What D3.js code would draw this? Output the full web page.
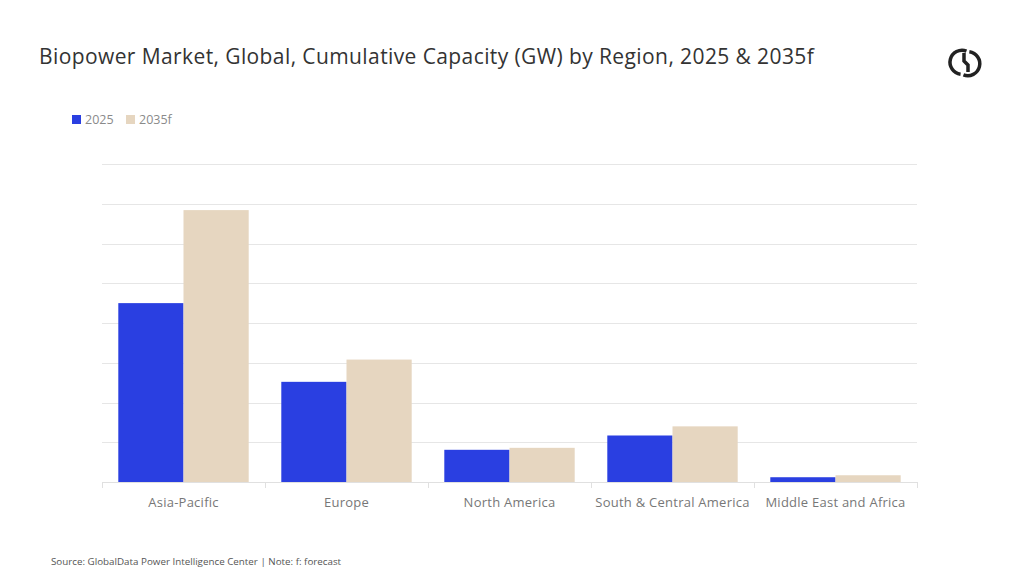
<!DOCTYPE html>
<html>
<head>
<meta charset="utf-8">
<script src="https://cdn.jsdelivr.net/npm/d3@7"></script>
<style>
  body { margin: 0; background: #fff; }
  text { font-family: "Open Sans", "Noto Sans", sans-serif; }
</style>
</head>
<body>
<div id="chart"></div>
<script>
// data (GW, no axis labels shown)
var regions = ["Asia-Pacific", "Europe", "North America", "South & Central America", "Middle East and Africa"];
var years = ["2025", "2035f"];
var values2025 = [45.0, 25.2, 8.1, 11.7, 1.2];
var values2035 = [68.4, 30.8, 8.6, 14.0, 1.7];
var gridTicks = [0, 10, 20, 30, 40, 50, 60, 70, 80];

var colors = { "2025": "#2a3fe1", "2035f": "#e6d6c0" };

var W = 1024, H = 576;
var svg = d3.select("#chart").append("svg")
    .attr("width", W)
    .attr("height", H);

// title
svg.append("text")
    .attr("x", 39)
    .attr("y", 64)
    .attr("font-size", 21)
    .attr("letter-spacing", 0.4)
    .attr("fill", "#333")
    .text("Biopower Market, Global, Cumulative Capacity (GW) by Region, 2025 & 2035f");

// logo (rough)
var logo = svg.append("g").attr("transform", "translate(965,63)")
    .attr("fill", "none").attr("stroke", "#222").attr("stroke-width", 3.5);
logo.append("path").attr("d", "M" + (12 * Math.cos(-1.2)) + "," + (12 * Math.sin(-1.2)) +
    " A12,12 0 1,1 " + (12 * Math.cos(1.7)) + "," + (12 * Math.sin(1.7)));
logo.append("path").attr("d", "M" + (12 * Math.cos(-1.45)) + "," + (12 * Math.sin(-1.45)) +
    " A12,12 0 1,0 " + (12 * Math.cos(1.95)) + "," + (12 * Math.sin(1.95)));
logo.append("path").attr("d", "M-1,-10 L-1,-2 L3,2 L3,9");

// legend
var legend = svg.append("g").attr("transform", "translate(72,114)");
var legX = [0, 54];
years.forEach(function (y, i) {
    legend.append("rect")
        .attr("x", legX[i]).attr("y", 1)
        .attr("width", 9).attr("height", 9)
        .attr("fill", colors[y]);
    legend.append("text")
        .attr("x", legX[i] + 13).attr("y", 10)
        .attr("font-size", 12.5)
        .attr("fill", "#8a8a8a")
        .text(y);
});

// scales
var x0 = d3.scaleBand().domain(regions).range([102, 917]).paddingInner(0.2).paddingOuter(0.1);
var x1 = d3.scaleBand().domain(years).range([0, x0.bandwidth()]);
var y = d3.scaleLinear().domain([0, 80]).range([482, 164]);

// gridlines
svg.append("g").selectAll("line")
    .data(gridTicks.slice(1))
    .join("line")
    .attr("x1", 102).attr("x2", 917)
    .attr("y1", function (d) { return Math.round(y(d)) + 0.5; })
    .attr("y2", function (d) { return Math.round(y(d)) + 0.5; })
    .attr("stroke", "#e6e6e6")
    .attr("stroke-width", 1);

// bars
var rows = regions.map(function (r, i) {
    return { region: r, vals: [{ year: "2025", v: values2025[i] }, { year: "2035f", v: values2035[i] }] };
});
var groups = svg.append("g").selectAll("g")
    .data(rows)
    .join("g")
    .attr("transform", function (d) { return "translate(" + x0(d.region) + ",0)"; });
groups.selectAll("rect")
    .data(function (d) { return d.vals; })
    .join("rect")
    .attr("x", function (d) { return x1(d.year); })
    .attr("width", x1.bandwidth())
    .attr("y", function (d) { return y(d.v); })
    .attr("height", function (d) { return y(0) - y(d.v); })
    .attr("fill", function (d) { return colors[d.year]; });

// x axis: baseline, boundary ticks, labels
var axis = svg.append("g");
axis.append("line")
    .attr("x1", 102).attr("x2", 917)
    .attr("y1", 482.5).attr("y2", 482.5)
    .attr("stroke", "#e0e0e0");
var step = x0.step();
var bounds = d3.range(regions.length + 1).map(function (i) { return 102 + i * step; });
axis.selectAll(".tick")
    .data(bounds)
    .join("line")
    .attr("class", "tick")
    .attr("x1", function (d) { return Math.round(d) + 0.5; })
    .attr("x2", function (d) { return Math.round(d) + 0.5; })
    .attr("y1", 482).attr("y2", 488)
    .attr("stroke", "#e0e0e0");
axis.selectAll(".lbl")
    .data(regions)
    .join("text")
    .attr("class", "lbl")
    .attr("x", function (d) { return x0(d) + x0.bandwidth() / 2; })
    .attr("y", 507)
    .attr("text-anchor", "middle")
    .attr("font-size", 13)
    .attr("letter-spacing", 0.25)
    .attr("fill", "#777")
    .text(function (d) { return d; });

// source
svg.append("text")
    .attr("x", 51)
    .attr("y", 565)
    .attr("font-size", 9.8)
    .attr("fill", "#555")
    .text("Source: GlobalData Power Intelligence Center | Note: f: forecast");
</script>
</body>
</html>
